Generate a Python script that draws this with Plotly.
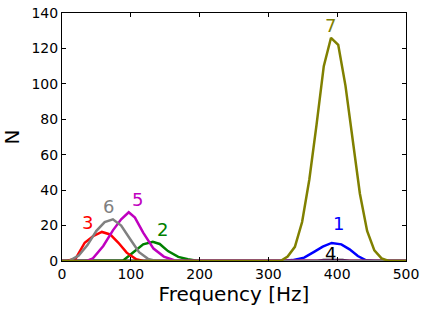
import plotly.graph_objects as go

# Series data (frequency in Hz, N)
freq_1 = [0, 319, 335, 352, 367, 379, 392, 406, 418, 430, 442, 455, 500]
n_1 = [0, 0, 0.5, 1.9, 5.3, 8.1, 10.2, 9.4, 6.6, 2.8, 0.4, 0, 0]

freq_2 = [0, 77, 89, 106, 118, 132, 142, 154, 169, 183, 198, 500]
n_2 = [0, 0, 0.3, 5.6, 9.4, 10.8, 9.6, 5.6, 2.3, 1.0, 0, 0]

freq_3 = [0, 7, 20, 33, 45, 58, 70, 82, 94, 108, 118, 500]
n_3 = [0, 0, 1.5, 10.3, 14, 16.4, 15, 10.3, 4.7, 1, 0, 0]

freq_4 = [0, 360, 371, 380, 394, 408, 418, 430, 500]
n_4 = [0, 0, 0, 0.6, 0.8, 0.6, 0, 0, 0]

freq_5 = [0, 36, 45, 60, 74, 86, 97, 106, 118, 133, 148, 164, 500]
n_5 = [0, 0, 1.5, 8.5, 17.3, 23.5, 27.5, 24.5, 16, 7, 2.5, 0.3, 0]

freq_6 = [0, 10, 24, 37, 50, 62, 74, 86, 98, 112, 125, 137, 500]
n_6 = [0, 0, 3, 9, 17, 22, 23.5, 20, 13, 5, 1.2, 0, 0]

freq_7 = [0, 307, 317.5, 328, 338.5, 349, 359.5, 370, 380.5, 391, 401.5, 412,
          422.5, 433, 443.5, 454, 464.5, 475, 500]
n_7 = [0, 0, 0, 2.5, 8, 22, 46, 77, 110, 126, 122, 99, 67, 38, 17, 6, 1.5, 0, 0]

series_names = ["1", "2", "3", "4", "5", "6", "7"]
series_colors = ["#0000ff", "#008000", "#ff0000", "#000000", "#bf00bf", "#808080", "#808000"]

# Label positions (data coords)
label_x = [402, 146, 37, 390, 110, 67, 390]
label_y = [21, 18, 21.5, 4.5, 35, 30.5, 133]

xs = [freq_1, freq_2, freq_3, freq_4, freq_5, freq_6, freq_7]
ys = [n_1, n_2, n_3, n_4, n_5, n_6, n_7]

fig = go.Figure()
for x, y, name, c in zip(xs, ys, series_names, series_colors):
    fig.add_trace(go.Scatter(x=x, y=y, mode="lines", name=name,
                             line=dict(color=c, width=2.5), showlegend=False))

for lx, ly, name, c in zip(label_x, label_y, series_names, series_colors):
    fig.add_annotation(x=lx, y=ly, text=name, showarrow=False,
                       font=dict(family="DejaVu Sans", size=18, color=c))

axis_common = dict(showgrid=False, zeroline=False, showline=True, linecolor="black",
                   linewidth=1, mirror="ticks", ticks="inside", ticklen=4,
                   tickcolor="black", tickfont=dict(family="DejaVu Sans", size=14, color="black"))

fig.update_xaxes(range=[0, 500], tickvals=[0, 100, 200, 300, 400, 500],
                 title=dict(text="Frequency [Hz]", font=dict(family="DejaVu Sans", size=20, color="black"),
                            standoff=4),
                 **axis_common)
fig.update_yaxes(range=[0, 140], tickvals=[0, 20, 40, 60, 80, 100, 120, 140],
                 title=dict(text="N", font=dict(family="DejaVu Sans", size=20, color="black"),
                            standoff=12),
                 **axis_common)

fig.update_layout(width=425, height=312, margin=dict(l=62, r=19, t=13, b=51, autoexpand=False),
                  plot_bgcolor="white", paper_bgcolor="white")

fig.write_html("out.html", config={"displayModeBar": False},
               post_script="document.body.style.margin='0px';")
